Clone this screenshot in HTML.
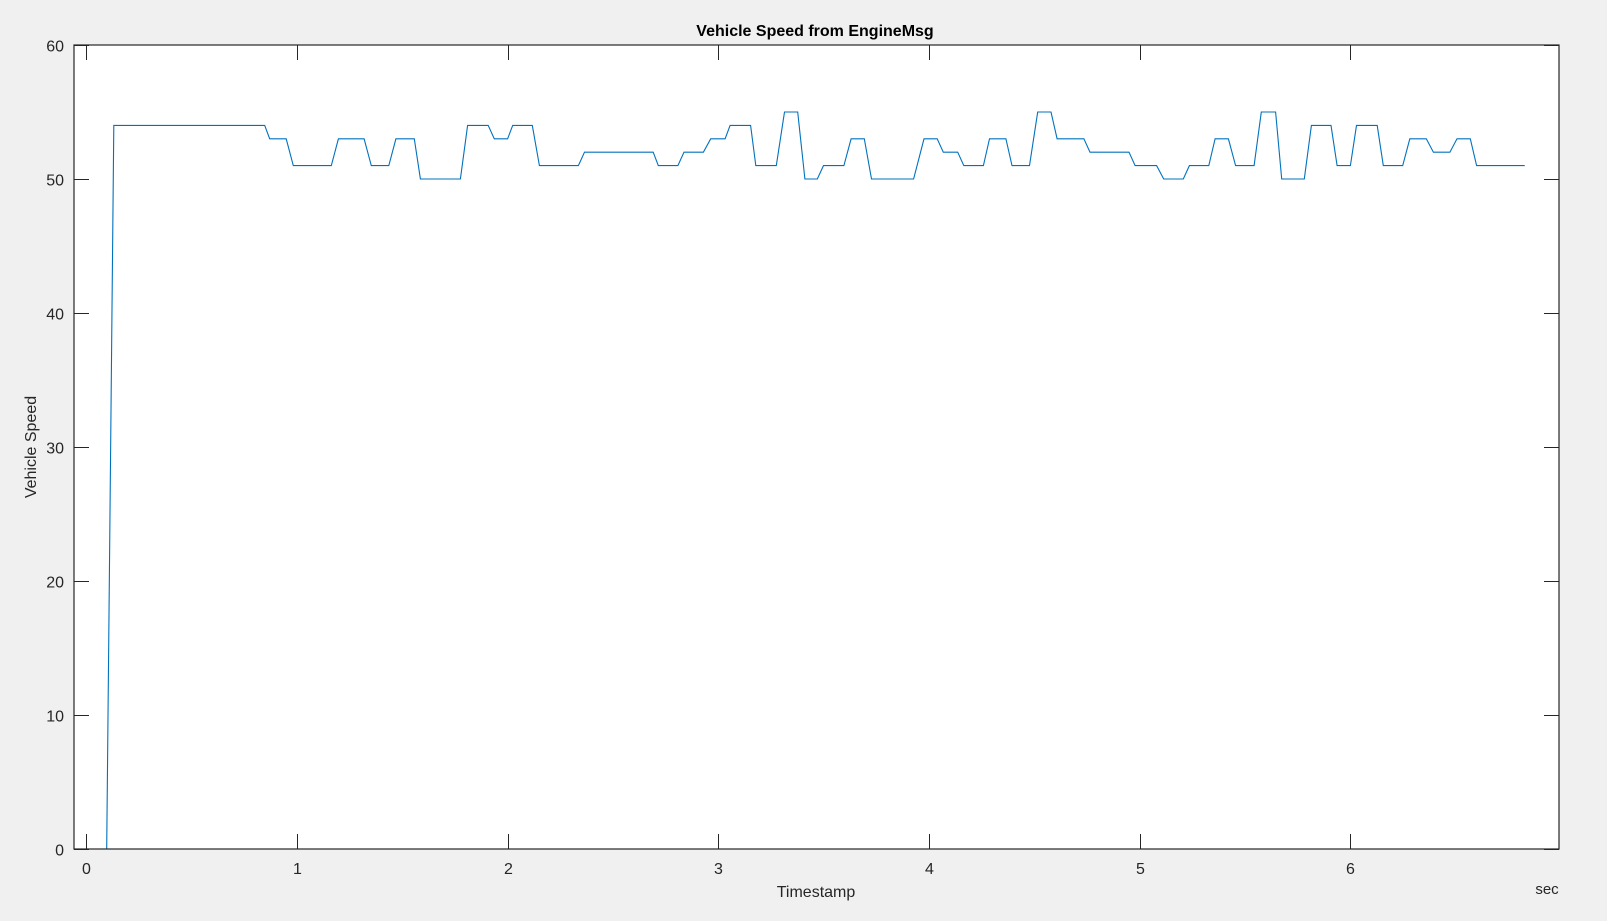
<!DOCTYPE html>
<html><head><meta charset="utf-8"><style>
html,body{margin:0;padding:0;background:#f0f0f0;}
svg{display:block;font-family:"Liberation Sans",Arial,sans-serif;}
</style></head><body>
<svg id="chart" width="1607" height="921">
<rect x="0" y="0" width="1607" height="921" fill="#f0f0f0"/>
<rect id="plotbg" fill="#fff"/>
<g id="ticks"></g>
<path id="line" fill="none" stroke="#0072bd" stroke-width="1.1"/>
<rect id="frame" fill="none" stroke="#262626" stroke-width="1.2"/>
<text x="815" y="36" text-anchor="middle" font-size="16" font-weight="bold" fill="#000">Vehicle Speed from EngineMsg</text>
<text x="816" y="897" text-anchor="middle" font-size="16" fill="#262626">Timestamp</text>
<text x="1547" y="894" text-anchor="middle" font-size="15" fill="#262626">sec</text>
<text transform="translate(36,447) rotate(-90)" text-anchor="middle" font-size="16" fill="#262626">Vehicle Speed</text>
</svg>
<script>
const times = [0.097,0.131,0.847,0.871,0.949,0.983,1.163,1.197,1.319,1.353,1.436,1.470,1.557,1.586,1.776,1.810,1.908,1.937,2.000,2.024,2.117,2.151,2.336,2.365,2.691,2.715,2.808,2.837,2.929,2.964,3.032,3.056,3.153,3.178,3.275,3.314,3.377,3.411,3.470,3.499,3.596,3.630,3.693,3.727,3.927,3.976,4.039,4.068,4.136,4.165,4.258,4.287,4.365,4.394,4.477,4.516,4.579,4.608,4.735,4.764,4.949,4.978,5.080,5.114,5.207,5.236,5.328,5.358,5.421,5.455,5.543,5.577,5.645,5.674,5.781,5.815,5.908,5.937,6.000,6.029,6.127,6.156,6.248,6.282,6.360,6.394,6.472,6.506,6.569,6.599,6.827];
const speeds = [0,54,54,53,53,51,51,53,53,51,51,53,53,50,50,54,54,53,53,54,54,51,51,52,52,51,51,52,52,53,53,54,54,51,51,55,55,50,50,51,51,53,53,50,50,53,53,52,52,51,51,53,53,51,51,55,55,53,53,52,52,51,51,50,50,51,51,53,53,51,51,55,55,50,50,54,54,51,51,54,54,51,51,53,53,52,52,53,53,51,51];
const xTicks = [0,1,2,3,4,5,6];
const yTicks = [0,10,20,30,40,50,60];
const xDomain = [-0.058, 6.99];
const yDomain = [0, 60];
const L=74,R=1559,T=45,B=849;
const sx=v=>L+(v-xDomain[0])/(xDomain[1]-xDomain[0])*(R-L);
const sy=v=>B-(v-yDomain[0])/(yDomain[1]-yDomain[0])*(B-T);
const NS='http://www.w3.org/2000/svg';
const bg=document.getElementById('plotbg');
bg.setAttribute('x',L);bg.setAttribute('y',T);bg.setAttribute('width',R-L);bg.setAttribute('height',B-T);
const fr=document.getElementById('frame');
fr.setAttribute('x',L);fr.setAttribute('y',T);fr.setAttribute('width',R-L);fr.setAttribute('height',B-T);
const g=document.getElementById('ticks');
function ln(x1,y1,x2,y2){const e=document.createElementNS(NS,'line');e.setAttribute('x1',x1);e.setAttribute('y1',y1);e.setAttribute('x2',x2);e.setAttribute('y2',y2);e.setAttribute('stroke','#262626');e.setAttribute('stroke-width','1');


g.appendChild(e);}
function tx(x,y,s,anchor){const e=document.createElementNS(NS,'text');e.setAttribute('x',x);e.setAttribute('y',y);e.setAttribute('text-anchor',anchor);e.setAttribute('font-size','16');e.setAttribute('fill','#262626');e.textContent=s;


g.appendChild(e);}
xTicks.forEach(v=>{const x=Math.round(sx(v))+0.5;ln(x,B,x,B-15);ln(x,T,x,T+15);tx(x,B+25,String(v),'middle');});
yTicks.forEach(v=>{const y=Math.round(sy(v))+0.5;ln(L,y,L+15,y);ln(R,y,R-15,y);tx(L-10,y+6,String(v),'end');});
let d='';
times.forEach((t,i)=>{d+=(i?'L':'M')+sx(t).toFixed(1)+' '+sy(speeds[i]).toFixed(1);});
document.getElementById('line').setAttribute('d',d);
</script>
</body></html>
